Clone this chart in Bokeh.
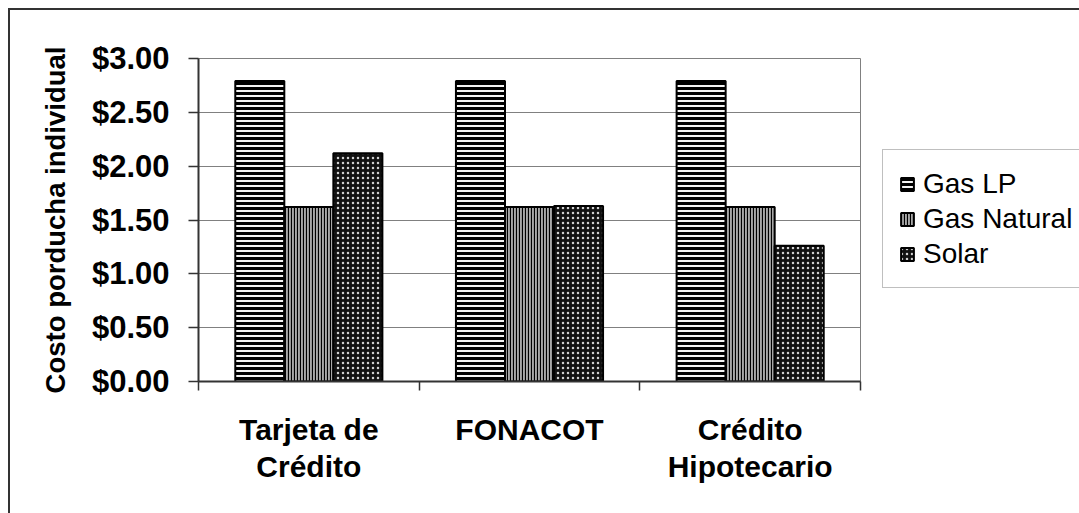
import numpy as np
from bokeh.plotting import figure
from bokeh.models import (Range1d, FixedTicker, NumeralTickFormatter, Legend,
                          LegendItem)
from bokeh.embed import file_html
from bokeh.resources import INLINE

# ---- data ----
categories = ["Tarjeta de\nCrédito", "FONACOT", "Crédito\nHipotecario"]
series_names = ["Gas LP", "Gas Natural", "Solar"]
gas_lp = [2.79, 2.79, 2.79]
gas_natural = [1.62, 1.62, 1.62]
solar = [2.12, 1.63, 1.26]
y_ticks = [0.0, 0.5, 1.0, 1.5, 2.0, 2.5, 3.0]

series_values = [gas_lp, gas_natural, solar]

# ---- styles ----
styles = [
    dict(fill_color="#f4f4f4", hatch_pattern="horizontal_line", hatch_color="black",
         hatch_scale=5, hatch_weight=3),
    dict(fill_color="#a8a8a8", hatch_pattern="vertical_line", hatch_color="black",
         hatch_scale=3, hatch_weight=1.2),
    dict(fill_color="#111111", hatch_pattern="dot", hatch_color="#d0d0d0",
         hatch_scale=5, hatch_weight=3),
]

n_cat = len(categories)
bar_w = 2 / 9  # 3 bars occupy 2/3 of a category (gap width 150%)

# canvas starts at (10, 10) on the page (outer chart border drawn by CSS outline)
p = figure(frame_width=662, frame_height=323,
           x_range=Range1d(0, n_cat), y_range=Range1d(0, 3),
           output_backend="svg", toolbar_location=None,
           min_border_left=188, min_border_right=219,
           min_border_top=48, min_border_bottom=132,
           background_fill_color="white", border_fill_color="white",
           styles={"margin-left": "10px", "margin-top": "10px",
                   "outline": "2px solid #333333"})

p.xgrid.visible = False
p.ygrid.grid_line_color = "#808080"
p.ygrid.grid_line_width = 1
p.outline_line_color = "#808080"
p.outline_line_width = 1

centers = np.arange(n_cat) + 0.5
items = []
for j, (name, vals, st) in enumerate(zip(series_names, series_values, styles)):
    r = p.vbar(x=centers + (j - 1) * bar_w, top=vals, bottom=0, width=bar_w,
               line_color="black", line_width=2, **st)
    items.append(LegendItem(label=name, renderers=[r]))

# y axis
ya = p.yaxis[0]
ya.ticker = FixedTicker(ticks=y_ticks, minor_ticks=[])
ya.formatter = NumeralTickFormatter(format="$0.00")
ya.major_label_text_font = "Liberation Sans"
ya.major_label_text_font_style = "bold"
ya.major_label_text_font_size = "31px"
ya.major_label_text_color = "black"
ya.major_label_standoff = 19
ya.major_tick_out = 10
ya.major_tick_in = 0
ya.major_tick_line_color = "#333333"
ya.major_tick_line_width = 1.5
ya.minor_tick_line_color = None
ya.axis_line_color = "#333333"
ya.axis_line_width = 2
ya.axis_label = "Costo porducha individual"
ya.axis_label_text_font = "Liberation Sans"
ya.axis_label_text_font_style = "bold"
ya.axis_label_text_font_size = "27.5px"
ya.axis_label_text_color = "black"
ya.axis_label_standoff = 18

# x axis
xa = p.xaxis[0]
xa.ticker = FixedTicker(ticks=list(centers), minor_ticks=list(range(n_cat + 1)))
xa.major_label_overrides = {float(c): lab for c, lab in zip(centers, categories)}
xa.major_label_text_font = "Liberation Sans"
xa.major_label_text_font_style = "bold"
xa.major_label_text_font_size = "30px"
xa.major_label_text_color = "black"
xa.major_label_text_line_height = 1.15
xa.major_label_standoff = 22
xa.major_tick_out = 0
xa.major_tick_in = 0
xa.major_tick_line_color = None
xa.minor_tick_out = 9
xa.minor_tick_in = 0
xa.minor_tick_line_color = "#333333"
xa.minor_tick_line_width = 1.5
xa.axis_line_color = "#333333"
xa.axis_line_width = 2

legend = Legend(items=items, location=(22, 93), margin=0, padding=16,
                spacing=0, glyph_width=16, glyph_height=16, label_height=35,
                label_standoff=8,
                label_text_font="Liberation Sans", label_text_font_size="28px",
                label_text_color="black", border_line_color="#808080",
                border_line_width=1.5, background_fill_color="white",
                background_fill_alpha=1)
p.add_layout(legend, "right")

open("out.html", "w").write(file_html(p, INLINE))
